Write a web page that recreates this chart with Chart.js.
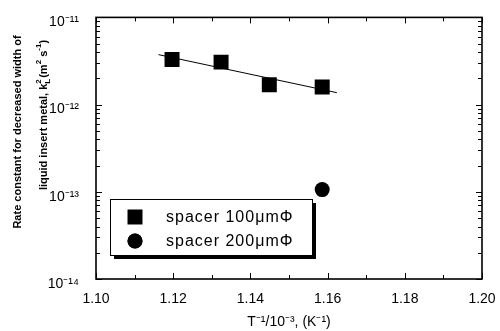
<!DOCTYPE html>
<html><head><meta charset="utf-8">
<script src="https://cdn.jsdelivr.net/npm/chart.js@4/dist/chart.umd.min.js"></script>
<style>html,body{margin:0;padding:0;background:#fff}canvas{display:block}</style>
</head><body>
<canvas id="c" width="500" height="331"></canvas>
<script>
// ---- data ----
const xTicks = [1.10, 1.12, 1.14, 1.16, 1.18, 1.20];
const xTickLabels = ['1.10', '1.12', '1.14', '1.16', '1.18', '1.20'];
const yTicks = [1e-14, 1e-13, 1e-12, 1e-11];
const yTickLabels = ['10\u207B\u00B9\u2074', '10\u207B\u00B9\u00B3', '10\u207B\u00B9\u00B2', '10\u207B\u00B9\u00B9'];
const spacer100X = [1.1197, 1.1324, 1.1449, 1.1586];
const spacer100Y = [3.3e-12, 3.07e-12, 1.69e-12, 1.59e-12];
const spacer200X = [1.1586];
const spacer200Y = [1.06e-13];
const fitX = [1.1162, 1.1624];
const fitY = [3.74e-12, 1.37e-12];
const seriesNames = ['spacer 100\u03BCm\u03A6', 'spacer 200\u03BCm\u03A6'];
const xTitle = 'T\u207B\u00B9/10\u207B\u00B3, (K\u207B\u00B9)';
const yTitleLine1 = 'Rate constant for decreased width of';

const FONT = 'Liberation Sans, Arial, sans-serif';

const framePlugin = {
  id: 'frameTicks',
  afterDatasetsDraw(chart) {
    const { ctx, chartArea: a, scales: { x, y } } = chart;
    ctx.save();
    ctx.strokeStyle = '#000';
    ctx.lineWidth = 1;
    ctx.beginPath();
    // x ticks (top & bottom, inward)
    for (let i = 0; i <= 10; i++) {
      const v = 1.10 + i * 0.01;
      const px = Math.round(x.getPixelForValue(v)) + 0.5;
      const len = (i % 2 === 0) ? 6 : 4;
      ctx.moveTo(px, a.bottom); ctx.lineTo(px, a.bottom - len);
      ctx.moveTo(px, a.top); ctx.lineTo(px, a.top + len);
    }
    // y ticks (left & right, inward)
    for (let d = -14; d <= -11; d++) {
      for (let m = 1; m <= 9; m++) {
        if (d === -11 && m > 1) break;
        const v = m * Math.pow(10, d);
        const py = Math.round(y.getPixelForValue(v)) + 0.5;
        const len = (m === 1) ? 6 : 4;
        ctx.moveTo(a.left, py); ctx.lineTo(a.left + len, py);
        ctx.moveTo(a.right, py); ctx.lineTo(a.right - len, py);
      }
    }
    ctx.stroke();
    ctx.lineWidth = 1.6;
    ctx.strokeRect(a.left, a.top, a.right - a.left, a.bottom - a.top);

    // legend
    const lx = 110, ly = 199, lw = 202, lh = 56;
    ctx.fillStyle = '#000';
    ctx.fillRect(lx + 4, ly + 4, lw, lh);
    ctx.fillStyle = '#fff';
    ctx.fillRect(lx, ly, lw, lh);
    ctx.lineWidth = 1;
    ctx.strokeRect(lx + 0.5, ly + 0.5, lw, lh);
    const ds = chart.data.datasets;
    const rows = [[ds[1], 217], [ds[2], 241]];
    rows.forEach(([d, yy]) => {
      Chart.helpers.drawPoint(ctx, {
        pointStyle: d.pointStyle, radius: d.pointRadius, rotation: 0, borderWidth: 0
      }, 135, yy);
      ctx.fillStyle = '#000';
      ctx.fill();
      ctx.font = '16px ' + FONT;
      ctx.letterSpacing = '1px';
      ctx.textBaseline = 'middle';
      ctx.textAlign = 'left';
      ctx.fillText(d.label, 166, yy + 1);
      ctx.letterSpacing = '0px';
    });

    // y title (two rotated lines)
    ctx.fillStyle = '#000';
    ctx.textBaseline = 'middle';
    ctx.save();
    ctx.translate(18, 132);
    ctx.rotate(-Math.PI / 2);
    ctx.font = 'bold 11px ' + FONT;
    ctx.textAlign = 'center';
    ctx.fillText(yTitleLine1, 0, 0);
    ctx.restore();

    const runs = [
      { t: 'liquid insert metal, k', f: 11, dy: 0 },
      { t: '2', f: 8, dy: -5, stackNext: true },
      { t: 'L', f: 8, dy: 4 },
      { t: '(m', f: 11, dy: 0 },
      { t: '2', f: 8, dy: -5 },
      { t: ' s', f: 11, dy: 0 },
      { t: '-1', f: 8, dy: -5 },
      { t: ')', f: 11, dy: 0 }
    ];
    ctx.save();
    ctx.translate(44, 115);
    ctx.rotate(-Math.PI / 2);
    ctx.textAlign = 'left';
    let total = 0;
    runs.forEach(r => {
      ctx.font = 'bold ' + r.f + 'px ' + FONT;
      r.w = ctx.measureText(r.t).width;
    });
    for (let i = 0; i < runs.length; i++) {
      const r = runs[i];
      if (r.stackNext) { total += Math.max(r.w, runs[i + 1].w) + 1; i++; }
      else total += r.w;
    }
    let cx = -total / 2;
    for (let i = 0; i < runs.length; i++) {
      const r = runs[i];
      ctx.font = 'bold ' + r.f + 'px ' + FONT;
      ctx.fillText(r.t, cx, r.dy);
      if (r.stackNext) {
        const n = runs[i + 1];
        ctx.font = 'bold ' + n.f + 'px ' + FONT;
        ctx.fillText(n.t, cx, n.dy);
        cx += Math.max(r.w, n.w) + 1; i++;
      } else cx += r.w;
    }
    ctx.restore();
    ctx.restore();
  }
};

new Chart(document.getElementById('c'), {
  type: 'scatter',
  data: {
    datasets: [
      { label: 'fit', data: fitX.map((v, i) => ({ x: v, y: fitY[i] })), showLine: true,
        borderColor: '#000', borderWidth: 1, pointRadius: 0, fill: false },
      { label: seriesNames[0], data: spacer100X.map((v, i) => ({ x: v, y: spacer100Y[i] })),
        pointStyle: 'rect', pointRadius: 10.6, backgroundColor: '#000', borderColor: '#000', borderWidth: 0 },
      { label: seriesNames[1], data: spacer200X.map((v, i) => ({ x: v, y: spacer200Y[i] })),
        pointStyle: 'circle', pointRadius: 7.5, backgroundColor: '#000', borderColor: '#000', borderWidth: 0 }
    ]
  },
  options: {
    responsive: false, animation: false, devicePixelRatio: 1,
    layout: { padding: { top: 10, right: 18, left: 0, bottom: 0 } },
    plugins: { legend: { display: false }, tooltip: { enabled: false } },
    scales: {
      x: {
        type: 'linear', min: 1.10, max: 1.20,
        afterBuildTicks: s => { s.ticks = xTicks.map(v => ({ value: v })); },
        ticks: { callback: (v, i) => xTickLabels[i], font: { family: FONT, size: 14 }, color: '#000',
          padding: 4, maxRotation: 0, autoSkip: false },
        grid: { display: false }, border: { display: false },
        title: { display: true, text: xTitle, color: '#000', font: { family: FONT, size: 14 },
          padding: { top: 8, bottom: 0 } },
        afterFit: s => { s.height = 52; }
      },
      y: {
        type: 'logarithmic', min: 1e-14, max: 1e-11,
        afterBuildTicks: s => { s.ticks = yTicks.map(v => ({ value: v })); },
        ticks: { callback: (v, i) => yTickLabels[i], font: { family: FONT, size: 14 }, color: '#000',
          padding: 9, labelOffset: 5, autoSkip: false },
        grid: { display: false }, border: { display: false },
        afterFit: s => { s.width = 96; }
      }
    }
  },
  plugins: [framePlugin]
});
</script>
</body></html>
